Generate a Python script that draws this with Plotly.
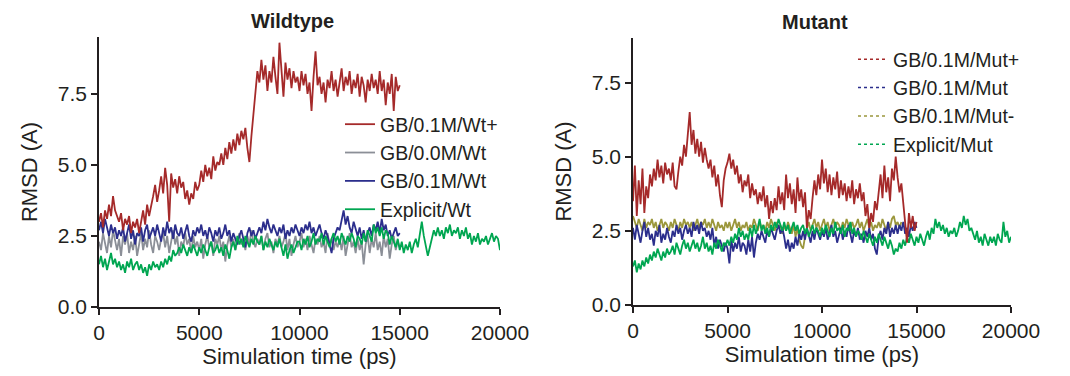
import numpy as np
import plotly.graph_objects as go

STEP = 100  # ps between plotted samples

# ---------------- Wildtype panel ----------------
wt_plus = [3.0, 3.3, 2.8, 3.4, 3.1, 3.6, 3.2, 3.9, 3.4, 3.2,
           3.0, 3.3, 2.7, 3.1, 2.9, 3.2, 2.6, 3.0, 2.8, 3.1,
           2.6, 3.0, 3.4, 2.9, 3.6, 3.2, 3.5, 3.9, 4.3, 3.7,
           4.1, 4.6, 4.0, 4.9, 4.3, 3.0, 4.7, 4.2, 4.5, 4.0,
           4.6, 4.2, 4.4, 3.8, 4.1, 3.6, 4.0, 3.8, 4.4, 4.1,
           4.3, 4.8, 4.4, 5.0, 4.6, 4.9, 4.5, 5.3, 4.8, 5.1,
           5.0, 5.4, 5.0, 5.6, 5.2, 5.8, 5.4, 5.9, 5.5, 6.1,
           5.7, 6.2, 5.9, 6.3, 5.6, 5.1, 6.0, 6.8, 7.7, 8.3,
           7.9, 8.7, 8.0, 8.5, 7.6, 8.3, 7.9, 8.8, 8.1, 7.5,
           9.3, 8.2, 7.4, 8.6, 8.0, 8.4, 7.7, 8.3, 7.9, 8.1,
           7.6, 8.3, 7.8, 8.2, 7.5, 7.9, 6.9, 8.1, 9.0, 7.8,
           8.1, 7.5, 7.9, 7.2, 8.0, 7.7, 8.3, 7.6, 8.0, 7.4,
           7.9, 8.4, 7.6, 8.1, 7.8, 8.3, 7.5, 8.0, 7.7, 8.2,
           7.4, 8.1, 7.8, 7.2, 8.0, 7.6, 8.2, 7.7, 8.0, 7.5,
           8.3, 7.6, 8.0, 7.1, 7.9, 7.5, 8.2, 6.9, 8.1, 7.6,
           7.8]
wt_00 = [2.3, 2.0, 2.6, 2.2, 1.9, 2.5, 2.1, 2.7, 2.3, 2.0,
         2.4, 1.8, 2.5, 2.2, 2.6, 1.9, 2.3, 2.0, 2.5, 1.8,
         2.2, 2.6, 2.0, 2.4, 2.1, 2.7, 2.2, 1.9, 2.5, 2.3,
         2.0, 2.4, 2.6, 2.1, 2.5, 1.9, 2.3, 2.7, 2.2, 2.5,
         1.8, 2.3, 2.1, 2.6, 2.2, 2.4, 1.9, 2.5, 2.1, 2.3,
         2.0, 2.4, 1.7, 2.2, 2.5, 2.1, 2.3, 1.8, 2.4, 2.2,
         2.5, 2.0, 2.3, 1.6, 2.2, 2.5, 2.1, 2.4, 2.0, 2.3,
         2.6, 2.2, 2.4, 2.0, 2.5, 2.2, 2.7, 2.3, 2.1, 2.4,
         2.2, 2.5, 2.0, 2.4, 2.6, 2.1, 2.3, 1.9, 2.4, 2.2,
         2.5, 2.1, 2.3, 2.6, 2.0, 2.4, 1.8, 2.2, 2.5, 2.1,
         2.3, 2.6, 2.1, 2.4, 2.0, 2.5, 2.2, 1.9, 2.4, 2.2,
         2.5, 2.1, 2.3, 1.9, 2.6, 2.2, 2.4, 2.0, 2.3, 2.1,
         2.4, 2.0, 2.5, 1.8, 2.2, 2.6, 2.1, 2.3, 1.9, 2.4,
         2.0, 2.3, 1.5, 2.2, 2.5, 1.9, 2.4, 2.1, 2.6, 2.0,
         2.3, 1.8, 2.5, 2.1, 2.4, 1.7, 2.2, 2.5, 2.0, 2.3,
         2.1]
wt_01 = [2.7, 3.0, 2.6, 3.1, 2.8, 2.5, 2.9, 2.6, 2.8, 2.4,
         2.7, 2.5, 2.8, 2.3, 2.6, 2.9, 2.4, 2.7, 2.2, 2.6,
         2.5, 2.8, 2.3, 2.7, 2.9, 2.4, 2.6, 2.8, 2.5, 2.9,
         2.6, 2.3, 2.8, 2.5, 3.0, 2.6, 2.8, 2.4, 2.9, 2.6,
         2.5, 2.8, 2.4, 2.7, 2.9, 2.5, 2.3, 2.7, 2.5, 2.8,
         2.6, 2.9, 2.5, 2.7, 2.4, 2.8, 2.6, 2.3, 2.7, 2.5,
         2.8, 2.4, 2.6, 2.9, 2.5, 2.7, 2.3, 2.6, 2.4, 2.2,
         2.5, 2.7, 2.4, 2.1, 2.6, 2.8, 2.5, 2.7, 2.4, 2.6,
         2.8, 2.6, 3.0, 2.7, 3.1, 2.8, 2.6, 2.9, 2.7, 2.5,
         2.8, 2.6, 2.9, 2.4, 2.7, 2.5, 2.8, 2.6, 2.9, 2.7,
         2.5, 2.8, 2.6, 2.9, 2.7, 3.0, 2.6, 2.8, 2.5, 2.7,
         2.9, 2.6, 2.4, 2.7, 2.5, 2.2, 1.9, 2.4, 2.6, 2.8,
         2.7, 3.0, 3.4, 2.9, 3.2, 2.8, 2.6, 3.0, 2.7, 2.5,
         2.8, 2.4, 2.7, 2.3, 2.6, 2.8, 2.5, 2.9, 2.7, 3.0,
         2.6, 3.1, 2.7, 2.9, 2.5, 2.7, 2.4, 2.6, 2.8, 2.5,
         2.6]
wt_explicit = [1.5, 1.8, 1.4, 1.7, 1.3, 1.6, 1.9, 1.5, 1.7, 1.4,
               1.6, 1.3, 1.5, 1.2, 1.6, 1.4, 1.7, 1.3, 1.5, 1.6,
               1.3, 1.5, 1.2, 1.4, 1.1, 1.5, 1.3, 1.6, 1.4, 1.5,
               1.3, 1.6, 1.4, 1.7, 1.5, 1.8, 1.6, 2.0, 1.8, 1.9,
               2.1, 1.9, 2.2, 2.0, 1.8, 2.1, 1.9, 2.2, 2.0, 1.8,
               2.1, 1.9, 2.2, 2.0, 1.8, 2.1, 2.3, 1.9, 2.0, 2.2,
               1.9, 2.1, 1.8, 2.2, 2.0, 1.7, 2.1, 2.3, 2.0, 2.5,
               2.2, 2.4, 2.1, 2.5, 2.3, 2.1, 2.4, 2.2, 2.5, 2.3,
               2.2, 2.5, 2.0, 2.3, 2.1, 2.4, 2.2, 2.0, 2.3, 2.1,
               2.4, 2.1, 1.8, 2.2, 1.7, 2.0, 2.2, 1.9, 2.1, 2.3,
               2.3, 2.0, 2.4, 2.2, 2.5, 2.1, 2.3, 2.6, 2.2, 2.4,
               2.3, 2.6, 2.2, 2.5, 2.3, 2.1, 2.4, 2.6, 2.3, 2.5,
               2.2, 2.6, 2.4, 2.2, 2.5, 2.3, 2.6, 2.4, 2.1, 2.5,
               2.4, 2.2, 2.6, 2.3, 2.7, 2.5, 2.3, 2.9, 2.6, 2.8,
               2.5, 2.8, 2.4, 2.7, 2.6, 2.2, 2.5, 2.3, 2.1, 2.4,
               2.0, 2.3, 1.9, 2.2, 2.0, 2.3, 1.9, 2.2, 2.4, 2.1,
               2.6, 3.0, 2.5, 2.2, 1.8, 2.1, 2.4, 2.7, 2.5, 2.8,
               2.5, 2.7, 2.4, 2.8, 2.6, 2.9, 2.5, 2.7, 2.6, 2.8,
               2.4, 2.7, 2.5, 2.8, 2.4, 2.6, 2.2, 2.5, 2.3, 2.6,
               2.2, 2.4, 2.3, 2.5, 2.2, 2.4, 2.6, 2.3, 2.5, 2.4,
               2.0]

# ---------------- Mutant panel ----------------
mut_plus = [3.5, 4.7, 3.0, 4.2, 3.4, 4.6, 3.1, 4.0, 3.6, 4.4,
            4.0, 4.6, 4.2, 4.9, 4.3, 4.7, 4.1, 4.8, 4.4, 4.6,
            4.2, 4.8, 4.0, 3.9, 4.5, 5.0, 4.7, 5.4, 5.0, 5.8,
            6.5, 5.4, 5.9, 5.1, 5.6, 5.0, 5.5, 4.8, 5.3, 4.9,
            4.6, 4.9, 4.3, 4.7, 4.0, 4.4, 3.7, 3.3, 4.2, 4.6,
            4.8, 5.1, 4.6, 4.9, 4.4, 4.7, 4.1, 4.4, 3.8, 4.2,
            4.0, 4.4, 3.6, 4.1, 3.7, 3.9, 3.4, 3.8, 3.5, 4.0,
            3.3, 3.7, 2.9, 3.5, 3.1, 3.6, 3.2, 4.0, 3.4, 3.8,
            3.2, 4.4, 3.6, 4.1, 3.4, 3.9, 3.1, 4.3, 3.5, 3.9,
            3.3, 3.8, 2.6, 3.2, 2.9, 3.6, 4.2, 3.7, 4.4, 3.9,
            4.9, 4.1, 4.6, 3.8, 4.4, 3.7, 4.3, 3.9, 4.5, 3.6,
            4.2, 3.7, 4.1, 3.5, 4.0, 3.6, 4.2, 3.4, 3.9, 3.6,
            4.1, 3.5, 3.8, 3.0, 3.4, 2.6, 3.1, 2.8, 3.5, 3.2,
            3.9, 4.4, 3.6, 4.7, 3.8, 4.3, 3.5, 4.6, 4.2, 5.0,
            4.3, 3.8, 4.1, 3.4, 2.9, 2.1, 3.1, 2.6, 3.0, 2.5,
            2.8]
mut_01 = [2.6, 2.2, 2.7, 2.4, 2.1, 2.5, 2.8, 2.3, 2.6, 2.2,
          2.4, 2.0, 2.5, 2.3, 2.7, 2.1, 2.4, 2.2, 2.6, 2.3,
          2.1, 2.5, 2.3, 2.7, 2.4, 2.6, 2.2, 2.5, 2.7, 2.4,
          2.6, 2.3, 2.8, 2.5, 2.7, 2.4, 2.8, 2.5, 2.6, 2.3,
          2.5, 2.2, 2.6, 2.0, 2.3, 1.9, 2.2, 2.0, 1.8, 2.1,
          1.9, 1.4, 2.2, 1.8, 2.1, 1.9, 2.3, 1.8, 2.1, 2.0,
          1.7, 2.2, 1.8, 2.3, 1.6, 2.1, 2.4, 2.2, 2.5, 2.3,
          2.1, 2.5, 2.3, 2.6, 2.4, 2.2, 2.5, 2.7, 2.4, 2.6,
          2.3, 1.9, 2.2, 1.8, 2.1, 1.9, 2.3, 2.0, 2.4, 2.2,
          2.5, 2.2, 2.6, 2.3, 2.1, 2.5, 2.2, 2.6, 2.4, 2.2,
          2.5, 2.3, 2.6, 2.2, 2.4, 2.7, 2.3, 2.5, 2.1, 2.4,
          2.6, 2.2, 2.5, 2.3, 2.7, 2.4, 2.1, 2.5, 2.3, 2.6,
          2.2, 2.4, 2.1, 2.5, 2.3, 2.6, 2.2, 2.4, 1.9, 1.7,
          2.3, 2.5, 2.2, 2.6, 2.4, 2.8, 2.3, 2.6, 2.4, 2.7,
          2.4, 2.7, 2.5, 2.8, 2.4, 2.6, 2.3, 2.7, 2.5, 2.8,
          2.6]
mut_minus = [3.0, 2.8, 2.6, 2.9, 2.7, 2.5, 2.9, 2.6, 2.8, 2.7,
             2.9, 2.6, 2.8, 2.5, 2.7, 2.9, 2.6, 2.8, 2.7, 2.5,
             2.8, 2.6, 2.9, 2.7, 2.5, 2.8, 2.6, 2.9, 2.7, 2.8,
             2.6, 2.8, 2.5, 2.7, 2.9, 2.6, 2.8, 2.7, 2.9, 2.6,
             2.8, 2.6, 2.9, 2.7, 2.5, 2.8, 2.6, 2.7, 2.5, 2.8,
             2.6, 2.8, 2.5, 2.7, 2.9, 2.6, 2.8, 2.5, 2.7, 2.6,
             2.8, 2.5, 2.7, 2.6, 2.9, 2.7, 2.5, 2.8, 2.6, 2.7,
             2.5, 2.8, 2.6, 2.9, 2.7, 2.5, 2.8, 2.6, 2.7, 2.4,
             2.7, 2.5, 2.8, 2.6, 2.4, 2.7, 2.3, 2.6, 2.2, 2.0,
             1.9, 2.3, 2.6, 2.8, 2.5, 2.7, 2.9, 2.6, 2.8, 2.5,
             2.7, 2.9, 2.6, 2.8, 2.5, 2.7, 2.9, 2.6, 2.8, 2.7,
             2.5, 2.8, 2.6, 2.9, 2.7, 2.5, 2.8, 2.6, 2.7, 2.9,
             2.6, 2.8, 2.5, 2.7, 2.9, 2.6, 2.8, 2.5, 2.7, 2.6,
             2.8, 2.6, 2.9, 2.7, 2.5, 2.8, 2.6, 2.9, 3.0, 2.7,
             2.8, 2.6, 2.8]
mut_explicit = [1.3, 1.5, 1.1, 1.4, 1.2, 1.5, 1.3, 1.6, 1.4, 1.7,
                1.5, 1.8, 1.6, 1.9, 1.7, 1.5, 1.8, 1.6, 1.9, 1.7,
                1.8, 2.0, 1.7, 2.1, 1.9, 1.7, 2.0, 2.2, 1.9, 2.1,
                1.8, 2.0, 2.2, 1.9, 2.1, 1.8, 2.0, 2.3, 1.9, 2.1,
                1.8, 2.0, 1.7, 2.1, 1.9, 2.2, 2.0, 1.8, 2.1, 2.0,
                2.2, 2.0, 2.3, 2.1, 2.4, 2.2, 2.6, 2.3, 2.5, 2.2,
                2.4, 2.2, 2.6, 2.3, 2.7, 2.4, 2.6, 2.9, 2.5, 2.7,
                2.4, 2.6, 2.3, 2.7, 2.5, 2.8, 2.6, 2.9, 2.7, 2.5,
                2.8, 2.5, 2.7, 2.4, 2.6, 2.8, 2.5, 2.7, 2.4, 2.6,
                2.7, 2.4, 2.6, 2.3, 2.5, 2.7, 2.4, 2.6, 2.5, 2.3,
                2.6, 2.4, 2.7, 2.5, 2.3, 2.6, 2.4, 2.8, 2.5, 2.6,
                2.4, 2.7, 2.3, 2.6, 2.5, 2.8, 2.4, 2.6, 2.3, 2.5,
                2.4, 2.2, 2.5, 2.3, 2.1, 2.4, 2.2, 2.0, 2.3, 2.1,
                2.4, 2.2, 2.0, 2.3, 2.1, 1.9, 2.2, 2.0, 1.7, 1.9,
                1.8, 2.1, 1.9, 2.2, 2.0, 2.3, 2.1, 2.4, 2.2, 2.0,
                2.3, 2.1, 2.4, 2.2, 2.0, 2.3, 2.5, 2.2, 2.6, 2.4,
                2.9, 2.6, 2.8, 2.5, 2.7, 2.4, 2.6, 2.3, 2.5, 2.4,
                2.6, 2.3, 2.5, 2.8, 2.6, 3.0, 2.7, 2.9, 2.5, 2.6,
                2.4, 2.2, 2.5, 2.1, 2.3, 2.0, 2.4, 2.2, 2.0, 2.3,
                2.1, 2.3, 2.0, 2.4, 2.2, 2.1, 2.8, 2.3, 2.5, 2.1,
                2.3]

x_ticks = [0, 5000, 10000, 15000, 20000]
y_ticks = [0.0, 2.5, 5.0, 7.5]

RED = "#a52a2a"
GRAY = "#8b8f97"
BLUE = "#2b2e8c"
GREEN = "#00a651"
OLIVE = "#9b973c"
TXT = "#231f20"
FONT = "Liberation Sans, Arial, sans-serif"
W, H = 1070, 376


def times(vals):
    return np.arange(len(vals)) * STEP


fig = go.Figure()

wt_series = [
    ("GB/0.0M/Wt", wt_00, GRAY, 2),
    ("GB/0.1M/Wt", wt_01, BLUE, 3),
    ("Explicit/Wt", wt_explicit, GREEN, 4),
    ("GB/0.1M/Wt+", wt_plus, RED, 1),
]
for name, vals, col, rank in wt_series:
    fig.add_trace(go.Scatter(x=times(vals), y=vals, mode="lines", name=name,
                             line=dict(color=col, width=1.8),
                             legendrank=rank, legend="legend",
                             xaxis="x", yaxis="y"))

mut_series = [
    ("GB/0.1M/Mut-", mut_minus, OLIVE, 3),
    ("GB/0.1M/Mut", mut_01, BLUE, 2),
    ("Explicit/Mut", mut_explicit, GREEN, 4),
    ("GB/0.1M/Mut+", mut_plus, RED, 1),
]
for name, vals, col, rank in mut_series:
    fig.add_trace(go.Scatter(x=times(vals), y=vals, mode="lines", name=name,
                             line=dict(color=col, width=1.8), showlegend=False,
                             xaxis="x2", yaxis="y2"))
for name, vals, col, rank in mut_series:
    fig.add_trace(go.Scatter(x=[None], y=[None], mode="lines", name=name,
                             line=dict(color=col, width=1.5, dash="dot"),
                             legendrank=rank, legend="legend2",
                             xaxis="x2", yaxis="y2"))

axis_common = dict(showline=True, linecolor=TXT, linewidth=1.5, ticks="outside",
                   ticklen=6, tickwidth=1.5, tickcolor=TXT, showgrid=False,
                   zeroline=False, automargin=False,
                   tickfont=dict(family=FONT, size=21, color=TXT),
                   title_font=dict(family=FONT, size=22, color=TXT))

legend_font = dict(family=FONT, size=19.5, color=TXT)

fig.update_layout(
    width=W, height=H,
    margin=dict(l=0, r=0, t=0, b=0),
    paper_bgcolor="white", plot_bgcolor="white",
    font=dict(family=FONT, color=TXT),
    xaxis=dict(domain=[91 / W, 492 / W], range=[0, 20000], tickvals=x_ticks,
               tickformat="d", anchor="y",
               title=dict(text="Simulation time (ps)", standoff=4), **axis_common),
    yaxis=dict(domain=[(H - 299) / H, (H - 29) / H], range=[0, 9.5], tickvals=y_ticks,
               tickformat=".1f", anchor="x",
               title=dict(text="RMSD (A)", standoff=14), **axis_common),
    xaxis2=dict(domain=[625 / W, 1003 / W], range=[0, 20000], tickvals=x_ticks,
                tickformat="d", anchor="y2",
                title=dict(text="Simulation time (ps)", standoff=4), **axis_common),
    yaxis2=dict(domain=[(H - 297) / H, (H - 30) / H], range=[0, 9.0], tickvals=y_ticks,
                tickformat=".1f", anchor="x2",
                title=dict(text="RMSD (A)", standoff=14), **axis_common),
    legend=dict(x=332 / W, y=(H - 97) / H, xanchor="left", yanchor="top",
                bgcolor="rgba(0,0,0,0)", font=legend_font,
                tracegroupgap=0, itemwidth=30),
    legend2=dict(x=845 / W, y=(H - 32) / H, xanchor="left", yanchor="top",
                 bgcolor="rgba(0,0,0,0)", font=legend_font,
                 tracegroupgap=0, itemwidth=30),
    showlegend=True,
    annotations=[
        dict(text="<b>Wildtype</b>", x=284 / W, y=(H - 13) / H, xref="paper",
             yref="paper", showarrow=False, xanchor="center", yanchor="middle",
             font=dict(family=FONT, size=20, color=TXT)),
        dict(text="<b>Mutant</b>", x=807 / W, y=(H - 14) / H, xref="paper",
             yref="paper", showarrow=False, xanchor="center", yanchor="middle",
             font=dict(family=FONT, size=20, color=TXT)),
    ],
)

fig.write_html("out.html")
